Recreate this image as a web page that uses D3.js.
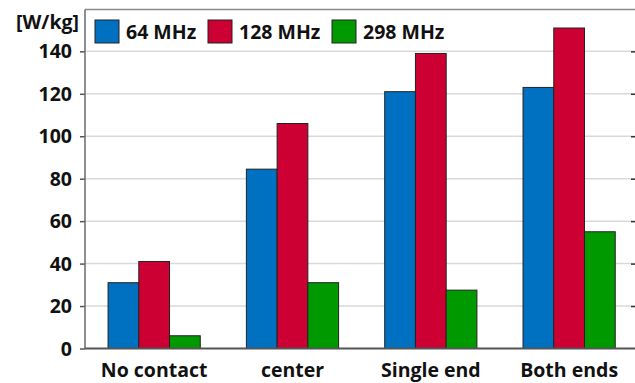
<!DOCTYPE html>
<html>
<head>
<meta charset="utf-8">
<script src="https://cdn.jsdelivr.net/npm/d3@7"></script>
<style>
  html, body { margin: 0; padding: 0; background: #fff; }
  svg { display: block; }
  text { font-family: "Open Sans", "Noto Sans", sans-serif; font-weight: 700; fill: #111; }
</style>
</head>
<body>
<svg id="chart" width="635" height="383"></svg>
<script>
// Specific absorption rate per contact configuration and field frequency
const categories = ["No contact", "center", "Single end", "Both ends"];
const seriesNames = ["64 MHz", "128 MHz", "298 MHz"];
const mhz64 = [31, 84.5, 121, 123];
const mhz128 = [41, 106, 139, 151];
const mhz298 = [6, 31, 27.5, 55];
const yTicks = [0, 20, 40, 60, 80, 100, 120, 140];
const yUnit = "[W/kg]";
const colors = ["#0070C0", "#CC0033", "#009900"];

const seriesValues = [mhz64, mhz128, mhz298];

const svg = d3.select("#chart");
const plot = { left: 85, right: 638.3, top: 9.5, bottom: 348.5 };

const y = d3.scaleLinear().domain([0, 160]).range([plot.bottom, 8.9]);
const x = d3.scaleBand().domain(categories)
  .range([plot.left, plot.right]).paddingInner(1 / 3).paddingOuter(1 / 6);
const xs = d3.scaleBand().domain(seriesNames).range([0, x.bandwidth()]);

// horizontal gridlines
svg.append("g").selectAll("line").data(yTicks.filter(d => d > 0)).join("line")
  .attr("x1", plot.left).attr("x2", 635)
  .attr("y1", d => y(d)).attr("y2", d => y(d))
  .attr("stroke", "#d9d9d9").attr("stroke-width", 1.5);

// top frame line
svg.append("line").attr("x1", plot.left).attr("x2", 635)
  .attr("y1", plot.top).attr("y2", plot.top)
  .attr("stroke", "#8a8a8a").attr("stroke-width", 1.5);

// bars
const rows = categories.map((c, i) => ({ cat: c, vals: seriesValues.map((s, k) => ({ name: seriesNames[k], v: s[i], k })) }));
svg.append("g").selectAll("g").data(rows).join("g")
  .attr("transform", d => `translate(${x(d.cat)},0)`)
  .selectAll("rect").data(d => d.vals).join("rect")
  .attr("x", d => xs(d.name))
  .attr("width", xs.bandwidth())
  .attr("y", d => y(d.v))
  .attr("height", d => y(0) - y(d.v))
  .attr("fill", d => colors[d.k])
  .attr("stroke", "#222").attr("stroke-width", 1);

// left axis
const yAxis = d3.axisLeft(y).tickValues(yTicks).tickSize(5).tickPadding(8);
const gy = svg.append("g").attr("transform", `translate(${plot.left},0)`).call(yAxis);
gy.select(".domain").remove();
gy.selectAll(".tick line").attr("stroke", "#555").attr("stroke-width", 1.5);
gy.selectAll(".tick text").attr("font-size", 19.5).attr("fill", "#111")
  .attr("font-family", "'Open Sans', sans-serif").attr("font-weight", 700).attr("dy", "0.34em");
svg.append("line").attr("x1", plot.left).attr("x2", plot.left)
  .attr("y1", plot.top).attr("y2", plot.bottom)
  .attr("stroke", "#6a6a6a").attr("stroke-width", 1.5);

// right-side inward ticks
const gr = svg.append("g").attr("transform", "translate(635,0)")
  .call(d3.axisRight(y).tickValues(yTicks.filter(d => d > 0)).tickSize(-4).tickFormat(""));
gr.select(".domain").remove();
gr.selectAll(".tick line").attr("stroke", "#333").attr("stroke-width", 1.5);

// bottom axis
const gx = svg.append("g").attr("transform", `translate(0,${plot.bottom})`)
  .call(d3.axisBottom(x).tickSize(0).tickPadding(15));
gx.select(".domain").attr("stroke", "#555").attr("stroke-width", 2)
  .attr("d", `M${plot.left},0H635`);
gx.selectAll(".tick text").attr("font-size", 19.5).attr("fill", "#111")
  .attr("font-family", "'Open Sans', sans-serif").attr("font-weight", 700).attr("dy", "0.71em");

// unit label
svg.append("text").attr("x", 79).attr("y", 29).attr("text-anchor", "end")
  .attr("font-size", 19.5).text(yUnit);

// legend
const legendX = [95, 208, 332];
const lg = svg.append("g").selectAll("g").data(seriesNames).join("g")
  .attr("transform", (d, i) => `translate(${legendX[i]},20)`);
lg.append("rect").attr("width", 24).attr("height", 23)
  .attr("fill", (d, i) => colors[i]).attr("stroke", "#222").attr("stroke-width", 1);
lg.append("text").attr("x", 31).attr("y", 19).attr("font-size", 19.5).text(d => d);
</script>
</body>
</html>
